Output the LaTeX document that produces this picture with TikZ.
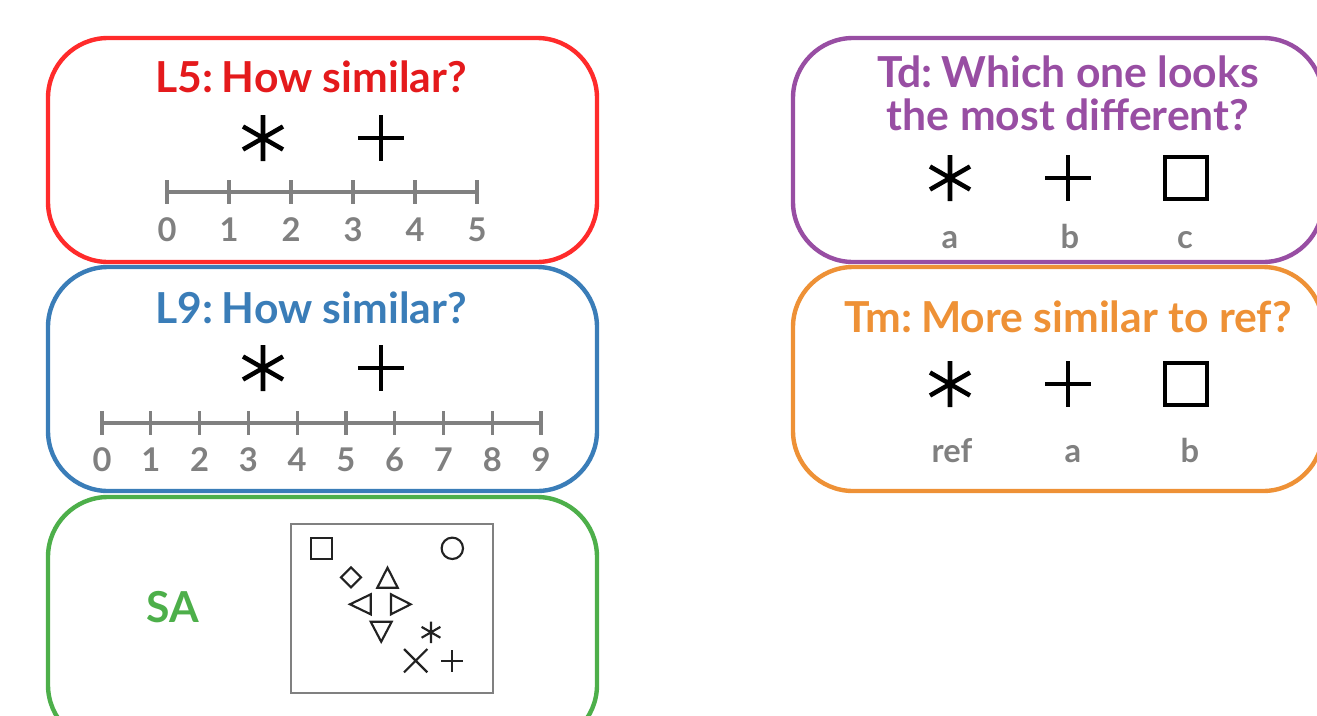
\documentclass[tikz,border=0pt]{standalone}
\usepackage{fontspec}
\setmainfont{Lato}
\definecolor{cred}{HTML}{E41A1C}
\definecolor{credb}{HTML}{FF2B2B}
\definecolor{cblue}{HTML}{3A7DB8}
\definecolor{cgreen}{HTML}{4DAF4A}
\definecolor{cpurple}{HTML}{984EA3}
\definecolor{corange}{HTML}{EE9136}
\definecolor{cgray}{HTML}{808080}
\definecolor{cdark}{HTML}{222222}
\newcommand{\tsp}{\hspace{-0.12em}}
\begin{document}
\begin{tikzpicture}[x=0.75pt,y=-0.75pt,
  panel/.style={line width=3.3pt, rounded corners=45pt},
  title/.style={font=\fontsize{32}{36}\selectfont\bfseries, inner sep=0pt, anchor=base},
  tlabel/.style={font=\fontsize{24.5}{28}\selectfont\bfseries, text=cgray, inner sep=0pt, anchor=base},
  axisline/.style={draw=cgray, line width=2.4pt},
  bigsym/.style={line width=3.4pt, draw=black},
  smallsym/.style={line width=1.6pt, draw=cdark},
  ast/.pic={\draw (0,-23)--(0,23) (-20,-11.5)--(20,11.5) (-20,11.5)--(20,-11.5);},
  plussym/.pic={\draw (-23,0)--(23,0) (0,-23)--(0,23);},
  sqsym/.pic={\draw (-21,-21) rectangle (21,21);}
]
\useasboundingbox (0,0) rectangle (1317,715);
\clip (0,0) rectangle (1317,715);

% ---------- L5 ----------
\draw[panel, draw=credb] (48,38) rectangle (597,262);
\node[title, text=cred] (l5t) at (311,92) {L5:\tsp{} How similar?};
\pic[bigsym] at (263,138) {ast};
\pic[bigsym] at (381,138) {plussym};
\draw[axisline] (167,192) -- (477,192);
\foreach \i in {0,...,5}{
  \draw[axisline] ({167+62*\i},180) -- ({167+62*\i},204);
  \node[tlabel] (l5n\i) at ({167+62*\i},241) {\i};
}

% ---------- L9 ----------
\draw[panel, draw=cblue] (48,267) rectangle (597,491);
\node[title, text=cblue] (l9t) at (311,323) {L9:\tsp{} How similar?};
\pic[bigsym] at (263,368) {ast};
\pic[bigsym] at (381,368) {plussym};
\draw[axisline] (102,423) -- (541,423);
\foreach \i in {0,...,9}{
  \draw[axisline] ({102+48.78*\i},411) -- ({102+48.78*\i},435);
  \node[tlabel] (l9n\i) at ({102+48.78*\i},471) {\i};
}

% ---------- SA ----------
\draw[panel, draw=cgreen] (48,497) rectangle (597,745);
\node[title, text=cgreen] (sat) at (173,622) {SA};
\draw[draw=cgray, line width=2.2pt] (291,524) rectangle (493,693);
\begin{scope}[smallsym]
  \draw (311,538) rectangle (332,559);
  \draw (452.3,548.3) circle (10.7);
  \draw (351,567.3) -- (361,577.3) -- (351,587.3) -- (341,577.3) -- cycle;
  \draw (387.5,567.7) -- (397.7,587.7) -- (377.3,587.7) -- cycle;
  \draw (350,604.3) -- (370.7,594.3) -- (370.7,614.3) -- cycle;
  \draw (410.7,604.3) -- (391,594.3) -- (391,614.3) -- cycle;
  \draw (381.2,641.7) -- (370.7,621.7) -- (391.7,621.7) -- cycle;
  \pic[scale=0.47] at (431,632.3) {ast};
  \draw (404,649) -- (427.3,672.3) (404,672.3) -- (427.3,649);
  \draw (441,661.2) -- (463.3,661.2) (452.2,650) -- (452.2,672.3);
\end{scope}

% ---------- Td ----------
\draw[panel, draw=cpurple] (793,38) rectangle (1323,262);
\node[title, text=cpurple] (tdt1) at (1068,87) {Td:\tsp{} Which one looks};
\node[title, text=cpurple] (tdt2) at (1068,130) {the most different?};
\pic[bigsym] at (950,178) {ast};
\pic[bigsym] at (1068,178) {plussym};
\pic[bigsym] at (1186,178) {sqsym};
\node[tlabel] (tda) at (950,248) {a};
\node[tlabel] (tdb) at (1070,248) {b};
\node[tlabel] (tdc) at (1185,248) {c};

% ---------- Tm ----------
\draw[panel, draw=corange] (793,267) rectangle (1323,491);
\node[title, text=corange] (tmt) at (1068,332) {Tm:\tsp{} More similar to ref?};
\pic[bigsym] at (950,384) {ast};
\pic[bigsym] at (1068,384) {plussym};
\pic[bigsym] at (1186,384) {sqsym};
\node[tlabel] (tmr) at (952,462) {ref};
\node[tlabel] (tma) at (1073,462) {a};
\node[tlabel] (tmb) at (1190,462) {b};
\end{tikzpicture}
\end{document}
